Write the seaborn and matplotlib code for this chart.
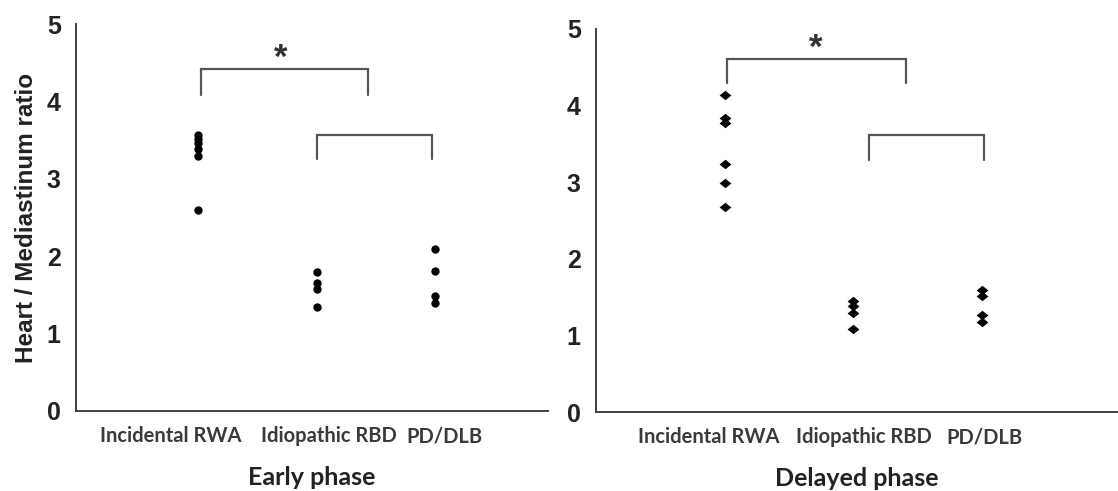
import numpy as np
import pandas as pd
import matplotlib
matplotlib.use("Agg")
import matplotlib.pyplot as plt
import seaborn as sns

groups = ["Incidental RWA", "Idiopathic RBD", "PD/DLB"]

early_rwa = [3.57, 3.52, 3.46, 3.39, 3.29, 2.60]
early_rbd = [1.80, 1.65, 1.58, 1.35]
early_pd = [2.09, 1.81, 1.48, 1.39]

delayed_rwa = [4.14, 3.84, 3.77, 3.24, 2.99, 2.68]
delayed_rbd = [1.45, 1.38, 1.29, 1.09]
delayed_pd = [1.59, 1.52, 1.26, 1.18]


def long_df(rwa, rbd, pd_dlb):
    rows = []
    for g, vals in zip(groups, [rwa, rbd, pd_dlb]):
        for v in vals:
            rows.append({"group": g, "value": v})
    return pd.DataFrame(rows)


early_df = long_df(early_rwa, early_rbd, early_pd)
delayed_df = long_df(delayed_rwa, delayed_rbd, delayed_pd)

sns.set_style("white")
plt.rcParams["font.family"] = ["Liberation Sans", "DejaVu Sans"]

fig = plt.figure(figsize=(11.18, 4.91), dpi=100)
ax1 = fig.add_axes([76 / 1118, 80 / 491, 472 / 1118, 387 / 491])
ax2 = fig.add_axes([596 / 1118, 79 / 491, 522 / 1118, 383 / 491])

diamond = [(-1, 0), (0, 0.8), (1, 0), (0, -0.8)]


def bracket(ax, x0, x1, ytop, ylow):
    ax.plot([x0, x0, x1, x1], [ylow, ytop, ytop, ylow], color="#555555", lw=1.6,
            solid_joinstyle="miter", clip_on=False)


def style_axis(ax, xlim, label_pos, xlabel):
    ax.set_ylim(0, 5)
    ax.set_xlim(*xlim)
    ax.set_yticks(range(6))
    ax.set_yticklabels([str(i) for i in range(6)], fontsize=18, fontweight="bold",
                       color="#222222")
    ax.set_xticks(range(3))
    ax.set_xticklabels([])
    ax.set_xticks(label_pos, minor=True)
    ax.set_xticklabels(groups, minor=True, fontsize=14.5, fontweight="bold",
                       color="#3a3a3a", family=["Lato", "DejaVu Sans"])
    ax.tick_params(axis="x", which="minor", length=0, pad=11)
    ax.tick_params(axis="x", which="major", length=4, width=1.3, color="#404040",
                   direction="out")
    ax.tick_params(axis="y", length=5, width=1.3, color="#404040", pad=6)
    for s in ["top", "right"]:
        ax.spines[s].set_visible(False)
    for s in ["left", "bottom"]:
        ax.spines[s].set_color("#404040")
        ax.spines[s].set_linewidth(1.4)
    ax.set_xlabel(xlabel, fontsize=18, fontweight="bold", color="#222222",
                  family=["Lato", "DejaVu Sans"], labelpad=14)


sns.stripplot(data=early_df, x="group", y="value", order=groups, jitter=False,
              color="black", marker="o", size=6, linewidth=0, ax=ax1)
sns.stripplot(data=delayed_df, x="group", y="value", order=groups, jitter=False,
              color="black", marker=diamond, size=8.5, linewidth=0, ax=ax2)

style_axis(ax1, (-1.03, 2.95), [-0.23, 1.10, 2.08], "Early phase")
style_axis(ax2, (-1.0, 3.06), [-0.12, 1.08, 2.02], "Delayed phase")

ax1.set_ylabel("Heart / Mediastinum ratio", fontsize=17.5, fontweight="bold",
               color="#222222", labelpad=6)
ax2.set_ylabel("")

# significance brackets
bracket(ax1, 0.02, 1.43, 4.42, 4.08)
bracket(ax1, 1.0, 1.97, 3.57, 3.25)
ax1.text(0.694, 4.56, "*", ha="center", va="center", fontsize=25, fontweight="bold",
         color="#333333")

bracket(ax2, 0.02, 1.41, 4.61, 4.29)
bracket(ax2, 1.12, 2.02, 3.62, 3.29)
ax2.text(0.705, 4.75, "*", ha="center", va="center", fontsize=25, fontweight="bold",
         color="#333333")

fig.savefig("out.png", dpi=100)
